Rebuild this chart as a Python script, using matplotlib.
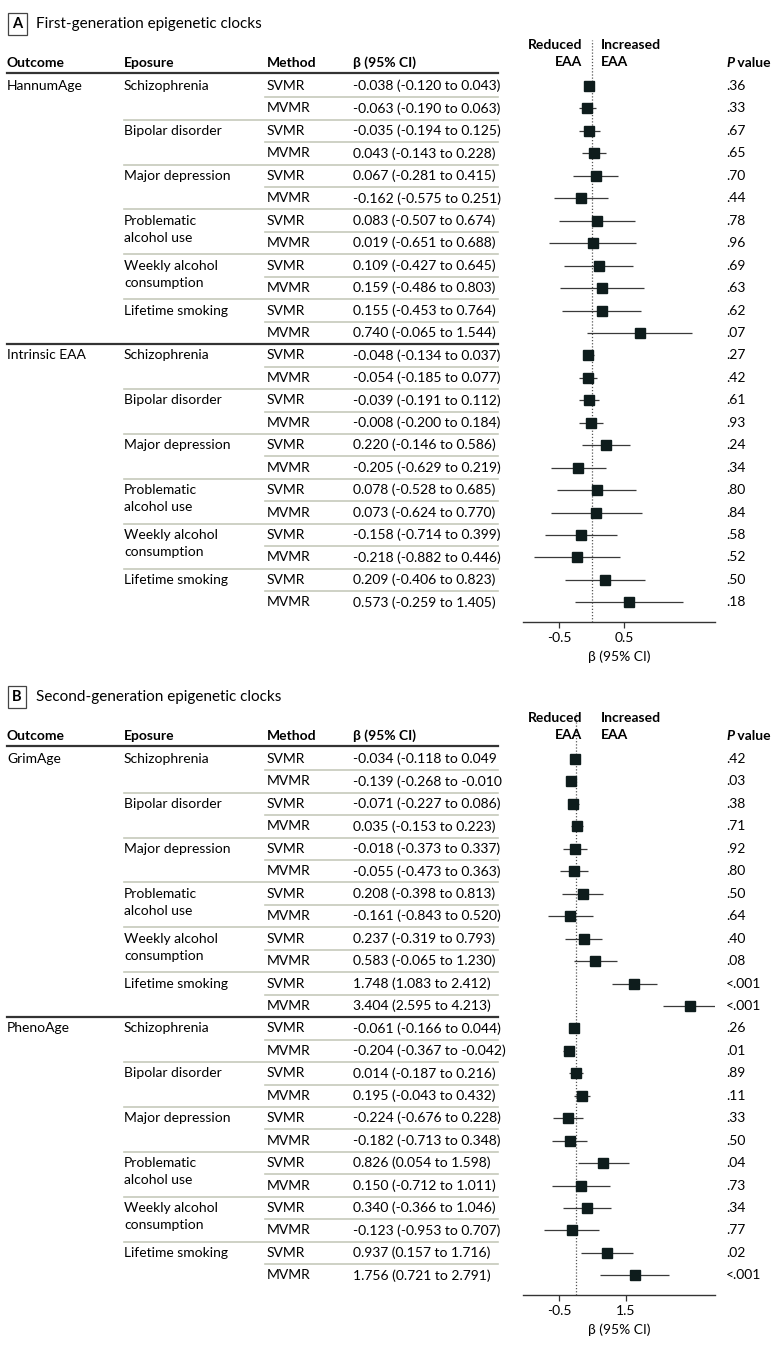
import matplotlib
matplotlib.use("Agg")
import matplotlib.pyplot as plt
from matplotlib.transforms import blended_transform_factory

plt.rcParams['font.family'] = ['Lato', 'DejaVu Sans']
plt.rcParams['axes.unicode_minus'] = False

# data
exposures = ["Schizophrenia", "Bipolar disorder", "Major depression",
             "Problematic\nalcohol use", "Weekly alcohol\nconsumption", "Lifetime smoking"]
methods = ["SVMR", "MVMR"]

outcomes_a = ["HannumAge", "Intrinsic EAA"]
beta_a = [-0.038, -0.063, -0.035, 0.043, 0.067, -0.162, 0.083, 0.019, 0.109, 0.159, 0.155, 0.740,
          -0.048, -0.054, -0.039, -0.008, 0.220, -0.205, 0.078, 0.073, -0.158, -0.218, 0.209, 0.573]
lo_a = [-0.120, -0.190, -0.194, -0.143, -0.281, -0.575, -0.507, -0.651, -0.427, -0.486, -0.453, -0.065,
        -0.134, -0.185, -0.191, -0.200, -0.146, -0.629, -0.528, -0.624, -0.714, -0.882, -0.406, -0.259]
hi_a = [0.043, 0.063, 0.125, 0.228, 0.415, 0.251, 0.674, 0.688, 0.645, 0.803, 0.764, 1.544,
        0.037, 0.077, 0.112, 0.184, 0.586, 0.219, 0.685, 0.770, 0.399, 0.446, 0.823, 1.405]
p_a = [".36", ".33", ".67", ".65", ".70", ".44", ".78", ".96", ".69", ".63", ".62", ".07",
       ".27", ".42", ".61", ".93", ".24", ".34", ".80", ".84", ".58", ".52", ".50", ".18"]
close_a = [")"] * 24

outcomes_b = ["GrimAge", "PhenoAge"]
beta_b = [-0.034, -0.139, -0.071, 0.035, -0.018, -0.055, 0.208, -0.161, 0.237, 0.583, 1.748, 3.404,
          -0.061, -0.204, 0.014, 0.195, -0.224, -0.182, 0.826, 0.150, 0.340, -0.123, 0.937, 1.756]
lo_b = [-0.118, -0.268, -0.227, -0.153, -0.373, -0.473, -0.398, -0.843, -0.319, -0.065, 1.083, 2.595,
        -0.166, -0.367, -0.187, -0.043, -0.676, -0.713, 0.054, -0.712, -0.366, -0.953, 0.157, 0.721]
hi_b = [0.049, -0.010, 0.086, 0.223, 0.337, 0.363, 0.813, 0.520, 0.793, 1.230, 2.412, 4.213,
        0.044, -0.042, 0.216, 0.432, 0.228, 0.348, 1.598, 1.011, 1.046, 0.707, 1.716, 2.791]
p_b = [".42", ".03", ".38", ".71", ".92", ".80", ".50", ".64", ".40", ".08", "<.001", "<.001",
       ".26", ".01", ".89", ".11", ".33", ".50", ".04", ".73", ".34", ".77", ".02", "<.001"]
close_b = ["", ""] + [")"] * 22  # the first two rows have no closing bracket in the original

W, H = 780, 1349
fig = plt.figure(figsize=(W / 100, H / 100), dpi=100)

LIGHT = "#c6cabb"
FS = 10.0
STEP = 22.45

def fx(x):
    return x / W

def fy(y):
    return 1 - y / H

def panel(off, letter, title, outcomes, beta, lo, hi, pv, close, xlim, ticks):
    top, bottom = 40 + off, 622 + off
    row0 = 86 + off
    ax = fig.add_axes([fx(523), fy(bottom), fx(715) - fx(523), (bottom - top) / H])
    ax.set_xlim(xlim)
    ax.set_ylim((bottom - row0) / STEP, (top - row0) / STEP)
    tr = blended_transform_factory(fig.transFigure, ax.transData)

    # title
    fig.text(fx(12), fy(24 + off), letter, fontsize=10.5, fontweight="bold", ha="left", va="center",
             bbox=dict(boxstyle="square,pad=0.3", fc="white", ec="#444444", lw=0.9))
    fig.text(fx(36), fy(24 + off), title, fontsize=11, ha="left", va="center")

    # headers
    for x, s in [(7, "Outcome"), (124, "Eposure"), (267, "Method"), (353, "β (95% CI)")]:
        fig.text(fx(x), fy(63 + off), s, fontsize=FS, fontweight="bold", ha="left", va="center")
    fig.text(fx(582), fy(45 + off), "Reduced", fontsize=FS, fontweight="bold", ha="right", va="center")
    fig.text(fx(582), fy(62 + off), "EAA", fontsize=FS, fontweight="bold", ha="right", va="center")
    fig.text(fx(601), fy(45 + off), "Increased", fontsize=FS, fontweight="bold", ha="left", va="center")
    fig.text(fx(601), fy(62 + off), "EAA", fontsize=FS, fontweight="bold", ha="left", va="center")
    pt = fig.text(fx(726), fy(63 + off), "P", fontsize=FS, fontweight="bold", style="italic",
                  ha="left", va="center")
    ax.annotate(" value", xy=(1, 0.5), xycoords=pt, fontsize=FS, fontweight="bold",
                ha="left", va="center")

    # thick line under header
    ax.plot([fx(7), fx(498)], [-0.6, -0.6], color="#333333", lw=1.6, transform=tr, clip_on=False)

    n = len(beta)
    for i in range(n):
        g = i // 12
        e = (i % 12) // 2
        m = i % 2
        if i % 12 == 0:
            ax.text(fx(7), i, outcomes[g], transform=tr, fontsize=FS, va="center", ha="left")
        if m == 0:
            lines = exposures[e].split("\n")
            ax.text(fx(124), i, lines[0], transform=tr, fontsize=FS, va="center", ha="left")
            if len(lines) > 1:
                ax.text(fx(124), i + 0.76, lines[1], transform=tr, fontsize=FS, va="center", ha="left")
        ax.text(fx(267), i, methods[m], transform=tr, fontsize=FS, va="center", ha="left")
        lab = f"{beta[i]:.3f} ({lo[i]:.3f} to {hi[i]:.3f}{close[i]}"
        ax.text(fx(353), i, lab, transform=tr, fontsize=FS, va="center", ha="left")
        ax.text(fx(726), i, pv[i], transform=tr, fontsize=FS, va="center", ha="left")

        # separators
        if i < n - 1:
            if m == 0:
                ax.plot([fx(265), fx(498)], [i + 0.5, i + 0.5], color=LIGHT, lw=1.2,
                        transform=tr, clip_on=False)
            elif i % 12 == 11:
                ax.plot([fx(7), fx(498)], [i + 0.5, i + 0.5], color="#333333", lw=1.6,
                        transform=tr, clip_on=False)
            else:
                ax.plot([fx(124), fx(498)], [i + 0.5, i + 0.5], color=LIGHT, lw=1.2,
                        transform=tr, clip_on=False)

    ys = list(range(n))
    ax.hlines(ys, lo, hi, color="#3a3a3a", lw=0.9, zorder=2)
    ax.plot(beta, ys, ls="none", marker="s", ms=6.5, mfc="#0e1c1c", mec="#0e1c1c", zorder=3)
    ax.axvline(0, color="#555555", lw=0.9, ls=(0, (1, 1.5)), zorder=1)

    for s in ["top", "right", "left"]:
        ax.spines[s].set_visible(False)
    ax.spines["bottom"].set_color("#333333")
    ax.spines["bottom"].set_linewidth(1.0)
    ax.set_yticks([])
    ax.set_xticks(ticks)
    ax.set_xticklabels([f"{t:.1f}" for t in ticks], fontsize=FS)
    ax.tick_params(axis="x", length=4, width=0.9, color="#333333", pad=3)
    ax.set_xlabel("β (95% CI)", fontsize=FS, labelpad=5)
    return ax

panel(0, "A", "First-generation epigenetic clocks", outcomes_a, beta_a, lo_a, hi_a, p_a, close_a,
      ((523 - 591.5) / 65.0, (715 - 591.5) / 65.0), [-0.5, 0.5])
panel(673, "B", "Second-generation epigenetic clocks", outcomes_b, beta_b, lo_b, hi_b, p_b, close_b,
      ((523 - 575.75) / 33.5, (715 - 575.75) / 33.5), [-0.5, 1.5])

fig.savefig("out.png", dpi=100, facecolor="white")
